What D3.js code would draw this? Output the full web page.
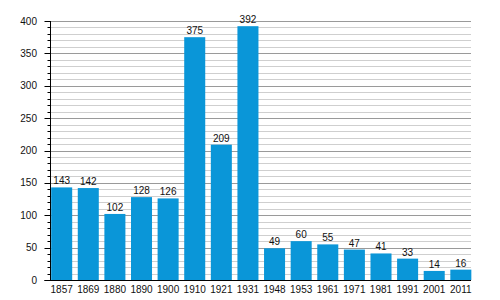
<!DOCTYPE html>
<html>
<head>
<meta charset="utf-8">
<script src="https://cdn.jsdelivr.net/npm/d3@7"></script>
<style>
  body { margin: 0; background: #fff; }
  text { font-family: "Liberation Sans", Arial, sans-serif; font-size: 10px; fill: #111; }
</style>
</head>
<body>
<div id="chart"></div>
<script>
// datos
const years = ["1857","1869","1880","1890","1900","1910","1921","1931","1948","1953","1961","1971","1981","1991","2001","2011"];
const values = [143, 142, 102, 128, 126, 375, 209, 392, 49, 60, 55, 47, 41, 33, 14, 16];
const majorTicks = [0, 50, 100, 150, 200, 250, 300, 350, 400];
const minorTicks = d3.range(0, 401, 10);

const W = 500, H = 300;
const mLeft = 50.5, mRight = 471, mTop = 21, mBottom = 280;

const svg = d3.select("#chart").append("svg")
  .attr("width", W).attr("height", H);

const x = d3.scaleBand()
  .domain(years)
  .range([48.5, 474])
  .paddingInner(0.21)
  .paddingOuter(0.1);

const y = d3.scaleLinear().domain([0, 400]).range([mBottom, mTop]);
const py = d => Math.round(y(d)) + 0.5;

// rejilla
svg.append("g").selectAll("line")
  .data(minorTicks.filter(d => d % 50 !== 0))
  .enter().append("line")
  .attr("x1", mLeft).attr("x2", mRight)
  .attr("y1", py).attr("y2", py)
  .attr("stroke", "#cfcfcf").attr("stroke-width", 1);

svg.append("g").selectAll("line")
  .data(majorTicks.filter(d => d > 0))
  .enter().append("line")
  .attr("x1", mLeft).attr("x2", mRight)
  .attr("y1", py).attr("y2", py)
  .attr("stroke", "#9a9a9a").attr("stroke-width", 1);

// barras
svg.append("g").selectAll("rect")
  .data(values)
  .enter().append("rect")
  .attr("x", (d, i) => x(years[i]))
  .attr("width", x.bandwidth())
  .attr("y", d => y(d))
  .attr("height", d => y(0) - y(d))
  .attr("fill", "#0a96d8");

// etiquetas de valor
svg.append("g").selectAll("text")
  .data(values)
  .enter().append("text")
  .attr("x", (d, i) => x(years[i]) + x.bandwidth() / 2)
  .attr("y", d => y(d) - 3)
  .attr("text-anchor", "middle")
  .text(d => d);

// eje y
const yAxis = svg.append("g");
yAxis.selectAll("line.minor")
  .data(minorTicks)
  .enter().append("line")
  .attr("x1", mLeft - 3).attr("x2", mLeft)
  .attr("y1", py).attr("y2", py)
  .attr("stroke", "#000");
yAxis.selectAll("line.major")
  .data(majorTicks)
  .enter().append("line")
  .attr("x1", mLeft - 6).attr("x2", mLeft)
  .attr("y1", py).attr("y2", py)
  .attr("stroke", "#000");
yAxis.selectAll("text")
  .data(majorTicks)
  .enter().append("text")
  .attr("x", mLeft - 13.5)
  .attr("y", d => y(d))
  .attr("dy", "0.35em")
  .attr("text-anchor", "end")
  .text(d => d);
yAxis.append("line")
  .attr("x1", mLeft).attr("x2", mLeft)
  .attr("y1", mTop).attr("y2", mBottom + 0.5)
  .attr("stroke", "#000");

// eje x
svg.append("line")
  .attr("x1", mLeft - 6).attr("x2", mRight)
  .attr("y1", mBottom + 0.5).attr("y2", mBottom + 0.5)
  .attr("stroke", "#000");
svg.append("g").selectAll("text")
  .data(years)
  .enter().append("text")
  .attr("x", d => x(d) + x.bandwidth() / 2)
  .attr("y", mBottom + 12.5)
  .attr("text-anchor", "middle")
  .text(d => d);
</script>
</body>
</html>
